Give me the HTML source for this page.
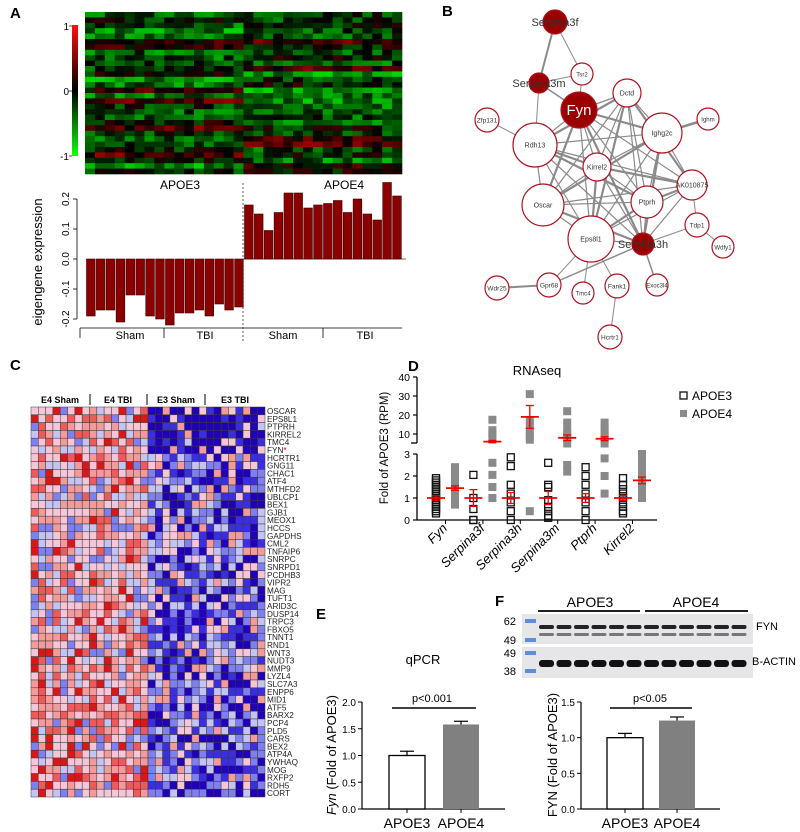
<!DOCTYPE html>
<html><head><meta charset="utf-8"><style>
html,body{margin:0;padding:0;background:#fff}
svg{display:block;font-family:"Liberation Sans",sans-serif}
</style></head><body>
<svg id="fig" width="800" height="832" viewBox="0 0 800 832" xmlns="http://www.w3.org/2000/svg">
<g id="pA"></g>
<g id="pB"></g>
<g id="pC"></g>
<g id="pD"></g>
<g id="pE"></g>
<g id="pF"></g>
</svg>
<script>
// ---------- data ----------
const eigenE3 = [-0.19,-0.17,-0.17,-0.21,-0.12,-0.12,-0.19,-0.20,-0.22,-0.18,-0.18,-0.17,-0.19,-0.15,-0.17,-0.16];
const eigenE4 = [0.18,0.15,0.095,0.155,0.22,0.22,0.17,0.18,0.185,0.195,0.155,0.2,0.15,0.13,0.255,0.21];
const eigenTicks = [-0.2,-0.1,0.0,0.1,0.2];
const genesC = ["OSCAR","EPS8L1","PTPRH","KIRREL2","TMC4","FYN","HCRTR1","GNG11","CHAC1","ATF4","MTHFD2","UBLCP1","BEX1","GJB1","MEOX1","HCCS","GAPDHS","CML2","TNFAIP6","SNRPC","SNRPD1","PCDHB3","VIPR2","MAG","TUFT1","ARID3C","DUSP14","TRPC3","FBXO5","TNNT1","RND1","WNT3","NUDT3","MMP9","LYZL4","SLC7A3","ENPP6","MID1","ATF5","BARX2","PCP4","PLD5","CARS","BEX2","ATP4A","YWHAQ","MOG","RXFP2","RDH5","CORT"];
const rnaGenes = ["Fyn","Serpina3f","Serpina3h","Serpina3m","Ptprh","Kirrel2"];
const rnaE3 = [[0.3,0.4,0.5,0.6,0.7,0.8,0.9,1.0,1.1,1.2,1.3,1.4,1.5,1.6,1.7,1.8,1.9],[0,0,0.5,1.0,2.05],[0,0.4,0.8,1.2,1.6,2.45,2.85],[0.1,0.2,0.4,0.6,0.9,1.5,1.6,2.6],[0,0.4,0.8,1.2,1.6,2.0,2.4],[0.3,0.4,0.6,0.8,1.0,1.2,1.4,1.6,1.9]];
const rnaE4 = [[0.7,0.9,1.0,1.1,1.2,1.3,1.4,1.5,1.6,1.7,1.8,1.9,2.0,2.2,2.4],[1.0,1.5,2.05,2.6,8,10,12,17.5],[0.4,7,9,11,14,17,31],[2.2,2.5,5,8,10,12,16,22],[1.2,2.0,2.8,5,7,9,11,13,16],[1.0,1.3,1.6,1.9,2.2,2.5,2.7,3.0]];
const rnaMeanE3 = [1,1,1,1,1,1];
const rnaErrE3 = [0.1,0.38,0.25,0.3,0.2,0.12];
const rnaMeanE4 = [1.45,6,19,8,7.5,1.8];
const rnaErrE4 = [0.1,0.6,6,1.5,1,0.15];
const rnaTicksLow = [0,1,2,3];
const rnaTicksHigh = [10,20,30,40];
const qpcrVals = [1.0,1.58];
const qpcrErr = [0.08,0.06];
const qpcrTicks = [0.0,0.5,1.0,1.5,2.0];
const fynVals = [1.0,1.24];
const fynErr = [0.06,0.05];
const fynTicks = [0.0,0.5,1.0,1.5];
const groups = ["APOE3","APOE4"];

const NS="http://www.w3.org/2000/svg";
function mk(tag,attrs,parent,txt){const e=document.createElementNS(NS,tag);for(const k in attrs)e.setAttribute(k,attrs[k]);if(txt!==undefined)e.textContent=txt;parent.appendChild(e);return e;}
function hash(a,b,c){let h=(a*374761393+b*668265263+c*2147483647)|0;h=(h^(h>>>13))*1274126177;h=h^(h>>>16);return ((h>>>0)%10000)/10000;}
const fig=document.getElementById('fig');
[["A",10,18],["B",442,16],["C",10,370],["D",408,371],["E",316,619],["F",495,606]].forEach(l=>{
  const t=mk('text',{x:l[1],y:l[2],'font-size':15,'font-weight':'bold'},fig,l[0]);
  
  
});

// ---------- Panel A ----------
const pA=document.getElementById('pA');
(function(){
  const x0=85,x1=402,y0=12,y1=174,cols=32,rows=30;
  const cw=(x1-x0)/cols,rh=(y1-y0)/rows;
  for(let r=0;r<rows;r++)for(let c=0;c<cols;c++){
    let v=hash(r,c,1)*2-1;
    const rb=hash(r,99,c<16?2:3)*1.2-0.75;
    v=Math.max(-1,Math.min(1,v*0.4+rb));
    let col;
    if(v<0){col=`rgb(0,${Math.round(-v*215)},0)`}else{col=`rgb(${Math.round(v*200)},0,0)`}
    const e=mk('rect',{x:x0+c*cw,y:y0+r*rh,width:cw+0.3,height:rh+0.3,fill:col},pA);
    
    
  }
  const defs=mk('defs',{},pA);
  const g=mk('linearGradient',{id:'gr',x1:0,y1:0,x2:0,y2:1},defs);
  mk('stop',{offset:'0','stop-color':'#ff1010'},g);mk('stop',{offset:'0.5','stop-color':'#000'},g);mk('stop',{offset:'1','stop-color':'#10ff10'},g);
  const cb=mk('rect',{x:72,y:25,width:6,height:131,fill:'url(#gr)'},pA);
  
  
  [["1",26],["0",91],["-1",156]].forEach(t=>{mk('text',{x:69,y:t[1]+4,'font-size':10,'text-anchor':'end'},pA,t[0]);mk('line',{x1:69,x2:72,y1:t[1],y2:t[1],stroke:'#000','stroke-width':0.7},pA);});
  mk('text',{x:180,y:189,'font-size':12,'text-anchor':'middle'},pA,"APOE3");
  mk('text',{x:344,y:189,'font-size':12,'text-anchor':'middle'},pA,"APOE4");
  const zy=259,sc=300,bx0=86,bw=(402-86)/32;
  const ya=v=>zy-v*sc;
  mk('line',{x1:77,x2:77,y1:ya(0.2),y2:ya(-0.2),stroke:'#000','stroke-width':0.8},pA);
  eigenTicks.forEach(t=>{mk('line',{x1:73,x2:77,y1:ya(t),y2:ya(t),stroke:'#000','stroke-width':0.8},pA);
    mk('text',{x:69,y:ya(t),'font-size':10,'text-anchor':'middle',transform:`rotate(-90 69 ${ya(t)})`},pA,t.toFixed(1));});
  const yl=mk('text',{x:42,y:262,'font-size':13,'text-anchor':'middle',transform:'rotate(-90 42 262)'},pA,"eigengene expression");
  
  
  mk('line',{x1:243,x2:406,y1:zy,y2:zy,stroke:'#333','stroke-width':0.8},pA);
  const all=eigenE3.concat(eigenE4);
  all.forEach((v,i)=>{
    const y=Math.min(ya(v),zy),h=Math.abs(ya(v)-zy);
    const b=mk('rect',{x:bx0+i*bw+0.5,y:y,width:bw-1.2,height:h,fill:'#8b0000',stroke:'#3a0000','stroke-width':0.6},pA);
    
    
  });
  mk('line',{x1:243,x2:243,y1:183,y2:342,stroke:'#333','stroke-width':0.8,'stroke-dasharray':'2,2'},pA);
  mk('line',{x1:80,x2:402,y1:328,y2:328,stroke:'#000','stroke-width':0.8},pA);
  mk('line',{x1:80,x2:80,y1:328,y2:338,stroke:'#000','stroke-width':0.8},pA);
  mk('line',{x1:164,x2:164,y1:328,y2:338,stroke:'#000','stroke-width':0.8},pA);
  mk('line',{x1:323,x2:323,y1:328,y2:338,stroke:'#000','stroke-width':0.8},pA);
  [["Sham",130],["TBI",205],["Sham",283],["TBI",365]].forEach(t=>mk('text',{x:t[1],y:339,'font-size':11,'text-anchor':'middle'},pA,t[0]));
})();

// ---------- Panel B ----------
const pB=document.getElementById('pB');
(function(){
  const nodes={Serpina3f:[555,22,12,1],Tsr2:[582,74,11,0],Serpina3m:[539,83,10,1],Fyn:[579,110,18,1],Dctd:[627,93,14,0],Zfp131:[487,120,12,0],Ighm:[708,119,11,0],Rdh13:[535,145,22,0],Ighg2c:[662,133,20,0],Kirrel2:[597,167,14,0],AK010875:[692,185,15,0],Oscar:[543,205,21,0],Ptprh:[647,202,16,0],Tdp1:[697,225,12,0],Eps8l1:[591,239,23,0],Serpina3h:[643,244,11,1],Wdfy1:[723,247,11,0],Wdr25:[497,288,12,0],Gpr68:[549,285,12,0],Tmc4:[583,293,11,0],Fank1:[617,286,12,0],Exoc3l4:[657,285,11,0],Hcrtr1:[610,337,12,0]};
  const core=["Fyn","Dctd","Rdh13","Ighg2c","Kirrel2","AK010875","Oscar","Ptprh","Eps8l1","Serpina3h"];
  const edges=[["Serpina3f","Serpina3m",2],["Serpina3f","Tsr2",1],["Serpina3m","Tsr2",1],["Serpina3m","Fyn",1.5],["Serpina3m","Rdh13",1],["Tsr2","Fyn",1],["Zfp131","Rdh13",1],["Ighm","Ighg2c",2.5],["AK010875","Tdp1",1],["Tdp1","Wdfy1",1],["Tdp1","Serpina3h",1],["Serpina3h","Exoc3l4",1.5],["Serpina3h","Gpr68",1.5],["Wdr25","Gpr68",2],["Eps8l1","Tmc4",1],["Eps8l1","Fank1",1],["Fank1","Hcrtr1",1],["Eps8l1","Gpr68",1]];
  for(let i=0;i<core.length;i++)for(let j=i+1;j<core.length;j++)edges.push([core[i],core[j],(i+j)%3===0?2.2:1.2]);
  edges.forEach(e=>{const a=nodes[e[0]],b=nodes[e[1]];
    const l=mk('line',{x1:a[0],y1:a[1],x2:b[0],y2:b[1],stroke:'#8a8a8a','stroke-width':e[2]},pB);
    
    });
  for(const k in nodes){const n=nodes[k];
    const c=mk('circle',{cx:n[0],cy:n[1],r:n[2],fill:n[3]?'#9b0000':'#fff',stroke:'#b01020','stroke-width':1.2},pB);
    
    
  }
  for(const k in nodes){const n=nodes[k];
    if(k==="Fyn"){mk('text',{x:n[0],y:n[1]+5,'font-size':15,fill:'#fff','text-anchor':'middle'},pB,"Fyn");}
    else if(n[3]){mk('text',{x:n[0],y:n[1]+4,'font-size':11,fill:'#333','text-anchor':'middle'},pB,k);}
    else mk('text',{x:n[0],y:n[1]+2.5,'font-size':Math.min(7,n[2]*0.55),fill:'#333','text-anchor':'middle'},pB,k);
  }
})();

// ---------- Panel C ----------
const pC=document.getElementById('pC');
(function(){
  const x0=31,y0=407,cw=(265-31)/32,rh=7.8;
  const pal=['#2000b8','#3a2ee0','#7f7ff0','#c4c4f4','#f6c6d8','#f59a9a','#ee5a5a','#d81818'];
  for(let r=0;r<genesC.length;r++)for(let c=0;c<32;c++){
    const left=c<16;
    const u=hash(r,c,7);
    let idx;
    if(left){idx=u<0.12?3:u<0.22?2:u<0.5?4:u<0.72?5:u<0.9?6:7;}
    else{const top=r<6?0.35:0;idx=u<0.25+top?0:u<0.45+top?1:u<0.68?2:u<0.82?3:u<0.92?4:5;}
    const e=mk('rect',{x:x0+c*cw,y:y0+r*rh,width:cw,height:rh,fill:pal[idx],stroke:'#3a3a3a','stroke-width':0.5},pC);
    
    
  }
  genesC.forEach((g,i)=>{const t=mk('text',{x:267,y:y0+i*rh+7,'font-size':8.2,fill:'#222'},pC,g);
    if(g==="FYN"){mk('tspan',{fill:'#e00'},t,"*");}
    
    });
  [["E4 Sham",60],["E4 TBI",118],["E3 Sham",176],["E3 TBI",235]].forEach(h=>mk('text',{x:h[1],y:403,'font-size':9,'font-weight':'bold','text-anchor':'middle'},pC,h[0]));
  [90,147,205].forEach(x=>mk('line',{x1:x,x2:x,y1:394,y2:405,stroke:'#000','stroke-width':1},pC));
})();

// ---------- Panel D ----------
const pD=document.getElementById('pD');
(function(){
  const ax=417,yD=v=>v<=3.3?520-v*22:434-(v-10)*1.9;
  const xD=(gi,s)=>436+gi*37.4+s*19;
  mk('text',{x:537,y:375,'font-size':13,'text-anchor':'middle'},pD,"RNAseq");
  mk('line',{x1:ax,x2:ax,y1:377,y2:443,stroke:'#000','stroke-width':1.3},pD);
  mk('line',{x1:ax,x2:ax,y1:454,y2:520,stroke:'#000','stroke-width':1.3},pD);
  mk('line',{x1:ax-6,x2:ax,y1:443,y2:443,stroke:'#000','stroke-width':1.3},pD);
  mk('line',{x1:ax,x2:657,y1:520,y2:520,stroke:'#000','stroke-width':1.3},pD);
  rnaTicksLow.forEach(t=>{mk('line',{x1:ax-4,x2:ax,y1:yD(t),y2:yD(t),stroke:'#000','stroke-width':1.2},pD);mk('text',{x:ax-7,y:yD(t)+4,'font-size':10.5,'text-anchor':'end'},pD,t);});
  rnaTicksHigh.forEach(t=>{mk('line',{x1:ax-4,x2:ax,y1:yD(t),y2:yD(t),stroke:'#000','stroke-width':1.2},pD);mk('text',{x:ax-7,y:yD(t)+4,'font-size':10.5,'text-anchor':'end'},pD,t);});
  const yl=mk('text',{x:388,y:448,'font-size':11.5,'text-anchor':'middle',transform:'rotate(-90 388 448)'},pD,"Fold of APOE3 (RPM)");
  
  
  rnaGenes.forEach((g,gi)=>{
    mk('line',{x1:xD(gi,0.5),x2:xD(gi,0.5),y1:520,y2:524,stroke:'#000','stroke-width':1},pD);
    const lx=xD(gi,0)+12,ly=529;
    const t=mk('text',{x:lx,y:ly,'font-size':13,'font-style':'italic','text-anchor':'end',transform:`rotate(-45 ${lx} ${ly})`},pD,g);
    
    
    rnaE3[gi].forEach(v=>{const p=mk('rect',{x:xD(gi,0)-3.5,y:yD(v)-3.5,width:7,height:7,fill:'none',stroke:'#111','stroke-width':1.3},pD);
      
      });
    rnaE4[gi].forEach(v=>{const p=mk('rect',{x:xD(gi,1)-4,y:yD(v)-4,width:8,height:8,fill:'#8a8a8a'},pD);
      
      });
    [[0,rnaMeanE3[gi],rnaErrE3[gi]],[1,rnaMeanE4[gi],rnaErrE4[gi]]].forEach(m=>{
      const x=xD(gi,m[0]);
      mk('line',{x1:x-9,x2:x+9,y1:yD(m[1]),y2:yD(m[1]),stroke:'#e00','stroke-width':1.8},pD);
      mk('line',{x1:x,x2:x,y1:yD(m[1]-m[2]),y2:yD(m[1]+m[2]),stroke:'#e00','stroke-width':1.3},pD);
      mk('line',{x1:x-4,x2:x+4,y1:yD(m[1]-m[2]),y2:yD(m[1]-m[2]),stroke:'#e00','stroke-width':1.3},pD);
      mk('line',{x1:x-4,x2:x+4,y1:yD(m[1]+m[2]),y2:yD(m[1]+m[2]),stroke:'#e00','stroke-width':1.3},pD);
    });
  });
  const l1=mk('rect',{x:680,y:392,width:7,height:7,fill:'none',stroke:'#111','stroke-width':1.3},pD);
  
  
  mk('text',{x:692,y:400,'font-size':12},pD,"APOE3");
  const l2=mk('rect',{x:680,y:410,width:7,height:7,fill:'#8a8a8a'},pD);
  
  
  mk('text',{x:692,y:418,'font-size':12},pD,"APOE4");
})();

// ---------- Bar charts E/F ----------
function barChart(g,ax,axEnd,ymax,ticks,vals,errs,bx,ylabItalic,ylabRest,ylx,ptxt,plx){
  const y0=809,ytop=702,yS=v=>y0-v*(y0-ytop)/ymax;
  mk('line',{x1:ax,x2:ax,y1:ytop,y2:y0,stroke:'#000','stroke-width':1.2},g);
  mk('line',{x1:ax,x2:axEnd,y1:y0,y2:y0,stroke:'#000','stroke-width':1.2},g);
  ticks.forEach(t=>{mk('line',{x1:ax-4,x2:ax,y1:yS(t),y2:yS(t),stroke:'#000','stroke-width':1},g);mk('text',{x:ax-6,y:yS(t)+4,'font-size':10,'text-anchor':'end'},g,t.toFixed(1));});
  vals.forEach((v,i)=>{
    const b=mk('rect',{x:bx[i],y:yS(v),width:36,height:y0-yS(v),fill:i?'#808080':'#fff',stroke:'#000','stroke-width':i?0:1.3},g);
    
    
    const cx=bx[i]+18;
    mk('line',{x1:cx,x2:cx,y1:yS(v),y2:yS(v+errs[i]),stroke:'#000','stroke-width':1.2},g);
    mk('line',{x1:cx-7,x2:cx+7,y1:yS(v+errs[i]),y2:yS(v+errs[i]),stroke:'#000','stroke-width':1.2},g);
    mk('line',{x1:cx,x2:cx,y1:y0,y2:y0+4,stroke:'#000','stroke-width':1},g);
    mk('text',{x:cx,y:828,'font-size':14,'text-anchor':'middle'},g,groups[i]);
  });
  mk('line',{x1:bx[0]+3,x2:bx[1]+33,y1:708,y2:708,stroke:'#000','stroke-width':1.5},g);
  mk('text',{x:plx,y:702,'font-size':11,'text-anchor':'middle'},g,ptxt);
  const t=mk('text',{x:ylx,y:755,'font-size':13,'text-anchor':'middle',transform:`rotate(-90 ${ylx} 755)`},g);
  if(ylabItalic)mk('tspan',{'font-style':'italic'},t,ylabItalic);
  mk('tspan',{},t,ylabRest);
  
  
}
const pE=document.getElementById('pE');
mk('text',{x:423,y:664,'font-size':13,'text-anchor':'middle'},pE,"qPCR");
barChart(pE,362,505,2.0,qpcrTicks,qpcrVals,qpcrErr,[389,443],"Fyn"," (Fold of APOE3)",336,"p<0.001",432);
const pF=document.getElementById('pF');
barChart(pF,581,720,1.5,fynTicks,fynVals,fynErr,[607,659],"","FYN (Fold of APOE3)",557,"p<0.05",650);
(function(){
  const g=pF;
  mk('text',{x:590,y:607,'font-size':14,'text-anchor':'middle'},g,"APOE3");
  mk('text',{x:696,y:607,'font-size':14,'text-anchor':'middle'},g,"APOE4");
  mk('line',{x1:538,x2:640,y1:611,y2:611,stroke:'#000','stroke-width':1.8},g);
  mk('line',{x1:645,x2:748,y1:611,y2:611,stroke:'#000','stroke-width':1.8},g);
  mk('rect',{x:522,y:614,width:231,height:30,fill:'#e6e6e8'},g);
  mk('rect',{x:522,y:647,width:231,height:31,fill:'#e6e6e8'},g);
  [[621,"62"],[640,"49"],[653,"49"],[671,"38"]].forEach(l=>{mk('text',{x:516,y:l[0]+4,'font-size':11,'text-anchor':'end'},g,l[1]);
    mk('rect',{x:525,y:l[0]-2,width:11,height:4,fill:'#5b8fd8'},g);});
  for(let i=0;i<12;i++){const x=539+i*17.5;
    const b1=mk('rect',{x:x,y:625,width:15,height:4,rx:2,fill:'#222'},g);
    
    
    mk('rect',{x:x,y:633,width:15,height:3,rx:1.5,fill:'#777'},g);
    const b2=mk('rect',{x:x,y:660,width:15,height:7,rx:3,fill:'#111'},g);
    
    
  }
  mk('text',{x:756,y:630,'font-size':11},g,"FYN");
  mk('text',{x:752,y:665,'font-size':11},g,"B-ACTIN");
})();
</script>
</body></html>
